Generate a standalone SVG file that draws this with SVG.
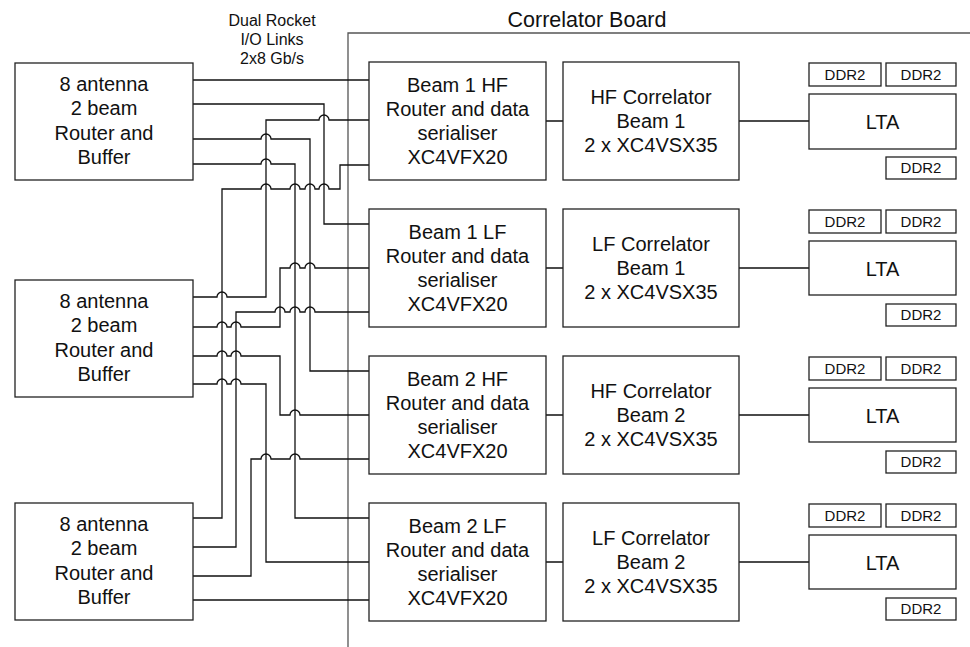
<svg xmlns="http://www.w3.org/2000/svg" width="970" height="647" viewBox="0 0 970 647">
<style>
.box{fill:#fff;stroke:#222;stroke-width:1.3}
.w{fill:none;stroke:#111;stroke-width:1.3}
.b{fill:none;stroke:#555;stroke-width:1.3}
text{font-family:"Liberation Sans",Arial,sans-serif;fill:#111;text-anchor:middle}
.t{font-size:20px}
.s{font-size:15px}
.l{font-size:16px}
</style>
<rect width="970" height="647" fill="#fff"/>
<g id="board">
<path class="b" d="M348,647 V33 H970"/>
<text x="587" y="27" style="font-size:21.5px">Correlator Board</text>
</g>
<g id="links-label">
<text class="l" x="272" y="26">Dual Rocket</text>
<text class="l" x="272" y="45">I/O Links</text>
<text class="l" x="272" y="64">2x8 Gb/s</text>
</g>
<g id="connectors">
<path class="w" d="M193,80 H369"/>
<path class="w" d="M193,104 H324 V224 H369"/>
<path class="w" d="M193,139 H261 a5,5 0 0 1 10,0 H310 V371 H369"/>
<path class="w" d="M193,164 H261 a5,5 0 0 1 10,0 H295 V518 H369"/>
<path class="w" d="M193,297 H217 a5,5 0 0 1 10,0 H266 V120 H319 a5,5 0 0 1 10,0 H369"/>
<path class="w" d="M193,327 H217 a5,5 0 0 1 10,0 H231 a5,5 0 0 1 10,0 H280 V268 H290 a5,5 0 0 1 10,0 H305 a5,5 0 0 1 10,0 H369"/>
<path class="w" d="M193,356 H217 a5,5 0 0 1 10,0 H231 a5,5 0 0 1 10,0 H280 V415 H290 a5,5 0 0 1 10,0 H369"/>
<path class="w" d="M193,384 H217 a5,5 0 0 1 10,0 H231 a5,5 0 0 1 10,0 H266 V562 H369"/>
<path class="w" d="M193,518 H222 V189 H261 a5,5 0 0 1 10,0 H290 a5,5 0 0 1 10,0 H305 a5,5 0 0 1 10,0 H319 a5,5 0 0 1 10,0 H340 V165 H369"/>
<path class="w" d="M193,547 H236 V312 H275 a5,5 0 0 1 10,0 H290 a5,5 0 0 1 10,0 H305 a5,5 0 0 1 10,0 H369"/>
<path class="w" d="M193,576 H251 V459 H261 a5,5 0 0 1 10,0 H290 a5,5 0 0 1 10,0 H369"/>
<path class="w" d="M193,600 H369"/>
<path class="w" d="M546,121 H563 M739,121 H809"/>
<path class="w" d="M546,268 H563 M739,268 H809"/>
<path class="w" d="M546,415 H563 M739,415 H809"/>
<path class="w" d="M546,562 H563 M739,562 H809"/>
</g>
<g id="antenna1">
<rect class="box" x="15" y="63" width="178" height="117"/>
<text class="t" x="104" y="91">8 antenna</text>
<text class="t" x="104" y="115">2 beam</text>
<text class="t" x="104" y="140">Router and</text>
<text class="t" x="104" y="164">Buffer</text>
</g>
<g id="antenna2">
<rect class="box" x="15" y="280" width="178" height="117"/>
<text class="t" x="104" y="308">8 antenna</text>
<text class="t" x="104" y="332">2 beam</text>
<text class="t" x="104" y="357">Router and</text>
<text class="t" x="104" y="381">Buffer</text>
</g>
<g id="antenna3">
<rect class="box" x="15" y="503" width="178" height="117"/>
<text class="t" x="104" y="531">8 antenna</text>
<text class="t" x="104" y="555">2 beam</text>
<text class="t" x="104" y="580">Router and</text>
<text class="t" x="104" y="604">Buffer</text>
</g>
<g id="router1">
<rect class="box" x="369" y="62" width="177" height="118"/>
<text class="t" x="457.5" y="92">Beam 1 HF</text>
<text class="t" x="457.5" y="116">Router and data</text>
<text class="t" x="457.5" y="140">serialiser</text>
<text class="t" x="457.5" y="164">XC4VFX20</text>
</g>
<g id="router2">
<rect class="box" x="369" y="209" width="177" height="118"/>
<text class="t" x="457.5" y="239">Beam 1 LF</text>
<text class="t" x="457.5" y="263">Router and data</text>
<text class="t" x="457.5" y="287">serialiser</text>
<text class="t" x="457.5" y="311">XC4VFX20</text>
</g>
<g id="router3">
<rect class="box" x="369" y="356" width="177" height="118"/>
<text class="t" x="457.5" y="386">Beam 2 HF</text>
<text class="t" x="457.5" y="410">Router and data</text>
<text class="t" x="457.5" y="434">serialiser</text>
<text class="t" x="457.5" y="458">XC4VFX20</text>
</g>
<g id="router4">
<rect class="box" x="369" y="503" width="177" height="118"/>
<text class="t" x="457.5" y="533">Beam 2 LF</text>
<text class="t" x="457.5" y="557">Router and data</text>
<text class="t" x="457.5" y="581">serialiser</text>
<text class="t" x="457.5" y="605">XC4VFX20</text>
</g>
<g id="corr1">
<rect class="box" x="563" y="62" width="176" height="118"/>
<text class="t" x="651" y="104">HF Correlator</text>
<text class="t" x="651" y="128">Beam 1</text>
<text class="t" x="651" y="152">2 x XC4VSX35</text>
</g>
<g id="corr2">
<rect class="box" x="563" y="209" width="176" height="118"/>
<text class="t" x="651" y="251">LF Correlator</text>
<text class="t" x="651" y="275">Beam 1</text>
<text class="t" x="651" y="299">2 x XC4VSX35</text>
</g>
<g id="corr3">
<rect class="box" x="563" y="356" width="176" height="118"/>
<text class="t" x="651" y="398">HF Correlator</text>
<text class="t" x="651" y="422">Beam 2</text>
<text class="t" x="651" y="446">2 x XC4VSX35</text>
</g>
<g id="corr4">
<rect class="box" x="563" y="503" width="176" height="118"/>
<text class="t" x="651" y="545">LF Correlator</text>
<text class="t" x="651" y="569">Beam 2</text>
<text class="t" x="651" y="593">2 x XC4VSX35</text>
</g>
<g id="lta1">
<rect class="box" x="809" y="94" width="147" height="55"/>
<text class="t" x="882.5" y="129">LTA</text>
</g>
<g id="lta2">
<rect class="box" x="809" y="241" width="147" height="54"/>
<text class="t" x="882.5" y="276">LTA</text>
</g>
<g id="lta3">
<rect class="box" x="809" y="388" width="147" height="54"/>
<text class="t" x="882.5" y="423">LTA</text>
</g>
<g id="lta4">
<rect class="box" x="809" y="535" width="147" height="54"/>
<text class="t" x="882.5" y="570">LTA</text>
</g>
<g id="ddr-row1">
<rect class="box" x="809" y="63" width="72" height="23"/><text class="s" x="845" y="80">DDR2</text>
<rect class="box" x="886" y="63" width="70" height="23"/><text class="s" x="921" y="80">DDR2</text>
<rect class="box" x="886" y="157" width="70" height="22"/><text class="s" x="921" y="173">DDR2</text>
</g>
<g id="ddr-row2">
<rect class="box" x="809" y="210" width="72" height="23"/><text class="s" x="845" y="227">DDR2</text>
<rect class="box" x="886" y="210" width="70" height="23"/><text class="s" x="921" y="227">DDR2</text>
<rect class="box" x="886" y="304" width="70" height="22"/><text class="s" x="921" y="320">DDR2</text>
</g>
<g id="ddr-row3">
<rect class="box" x="809" y="357" width="72" height="23"/><text class="s" x="845" y="374">DDR2</text>
<rect class="box" x="886" y="357" width="70" height="23"/><text class="s" x="921" y="374">DDR2</text>
<rect class="box" x="886" y="451" width="70" height="22"/><text class="s" x="921" y="467">DDR2</text>
</g>
<g id="ddr-row4">
<rect class="box" x="809" y="504" width="72" height="23"/><text class="s" x="845" y="521">DDR2</text>
<rect class="box" x="886" y="504" width="70" height="23"/><text class="s" x="921" y="521">DDR2</text>
<rect class="box" x="886" y="598" width="70" height="22"/><text class="s" x="921" y="614">DDR2</text>
</g>
</svg>
